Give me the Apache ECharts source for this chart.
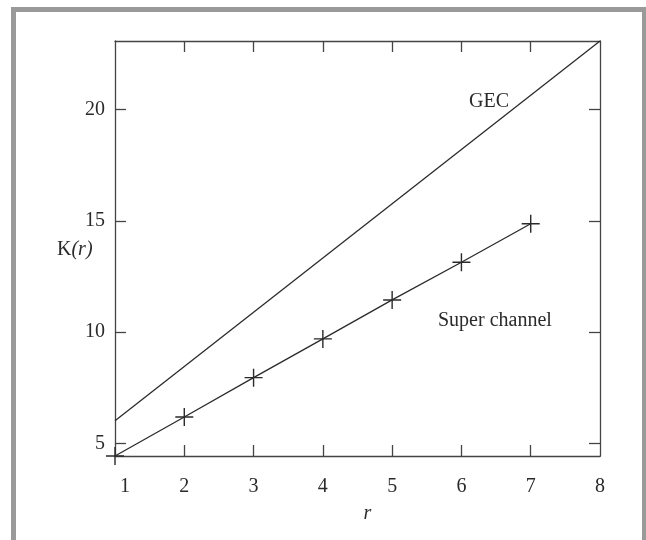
<!DOCTYPE html>
<html>
<head>
<meta charset="utf-8">
<script src="https://cdn.jsdelivr.net/npm/echarts@6/dist/echarts.min.js"></script>
<style>
html,body{margin:0;padding:0;background:#fff;}
#c{width:646px;height:540px;}
</style>
</head>
<body>
<div id="c"></div>
<script>
// Data
const rValues = [1, 2, 3, 4, 5, 6, 7];
const superChannel = [4.44, 6.19, 7.96, 9.70, 11.45, 13.14, 14.87];
const gecR = [1, 8];
const gecValues = [6.02, 23.08];
const xTicks = [1, 2, 3, 4, 5, 6, 7, 8];
const yTicks = [5, 10, 15, 20];

const FONT = '"Liberation Serif", "DejaVu Serif", serif';
const INK = '#2a2a2a';

const chart = echarts.init(document.getElementById('c'), null, {renderer: 'canvas'});

const plusPath = 'path://M0,5L10,5M5,0L5,10';

const option = {
  backgroundColor: '#fff',
  animation: false,
  grid: {left: 115, right: 46, top: 41, bottom: 84, containLabel: false},
  xAxis: [{
    type: 'value', min: 1, max: 8, interval: 1,
    axisLine: {show: true, onZero: false, lineStyle: {color: '#444', width: 1.3}},
    axisTick: {show: true, inside: true, length: 11, lineStyle: {color: '#444', width: 1.3},
      customValues: xTicks.slice(1, -1)},
    axisLabel: {
      fontFamily: FONT, fontSize: 20, color: INK, margin: 21,
      customValues: xTicks,
      formatter: function (v) { return v === 1 ? '{a|1}' : String(v); },
      rich: {a: {fontFamily: FONT, fontSize: 20, color: INK, padding: [0, 0, 0, 20]}}
    },
    splitLine: {show: false},
    name: 'r', nameLocation: 'middle', nameGap: 48,
    nameTextStyle: {fontFamily: FONT, fontSize: 20, fontStyle: 'italic', color: INK, padding: [0, 0, 0, 20]}
  }, {
    type: 'value', min: 1, max: 8, interval: 1, position: 'top',
    axisLine: {show: true, onZero: false, lineStyle: {color: '#444', width: 1.3}},
    axisTick: {show: true, inside: true, length: 11, lineStyle: {color: '#444', width: 1.3},
      customValues: xTicks.slice(1, -1)},
    axisLabel: {show: false},
    splitLine: {show: false}
  }],
  yAxis: [{
    type: 'value', min: 4.44, max: 23.08,
    axisLine: {show: true, onZero: false, lineStyle: {color: '#444', width: 1.3}},
    axisTick: {show: true, inside: true, length: 11, lineStyle: {color: '#444', width: 1.3},
      customValues: yTicks},
    axisLabel: {fontFamily: FONT, fontSize: 20, color: INK, margin: 10, customValues: yTicks},
    splitLine: {show: false}
  }, {
    type: 'value', min: 4.44, max: 23.08, position: 'right',
    axisLine: {show: true, onZero: false, lineStyle: {color: '#444', width: 1.3}},
    axisTick: {show: true, inside: true, length: 11, lineStyle: {color: '#444', width: 1.3},
      customValues: yTicks},
    axisLabel: {show: false},
    splitLine: {show: false}
  }],
  series: [{
    name: 'GEC', type: 'line',
    data: gecR.map((r, i) => [r, gecValues[i]]),
    showSymbol: false, symbol: 'none',
    lineStyle: {color: INK, width: 1.3},
    clip: false
  }, {
    name: 'Super channel', type: 'line',
    data: rValues.map((r, i) => [r, superChannel[i]]),
    symbol: plusPath, symbolSize: 18,
    itemStyle: {color: 'transparent', borderColor: INK, borderWidth: 1.4},
    lineStyle: {color: INK, width: 1.3},
    clip: false
  }],
  graphic: [{
    type: 'rect', silent: true,
    shape: {x: 13.5, y: 9.5, width: 631, height: 600},
    style: {fill: 'none', stroke: '#9a9a9a', lineWidth: 5}
  }, {
    type: 'text', left: 469, top: 92,
    style: {text: 'GEC', font: '20px ' + FONT, fill: INK}
  }, {
    type: 'text', left: 438, top: 311,
    style: {text: 'Super channel', font: '20px ' + FONT, fill: INK}
  }, {
    type: 'text', left: 57, top: 240,
    style: {
      text: '{k|K}{r|(r)}',
      rich: {
        k: {fontFamily: FONT, fontSize: 20, fill: INK, color: INK},
        r: {fontFamily: FONT, fontSize: 20, fontStyle: 'italic', fill: INK, color: INK}
      }
    }
  }]
};

chart.setOption(option);
</script>
</body>
</html>
